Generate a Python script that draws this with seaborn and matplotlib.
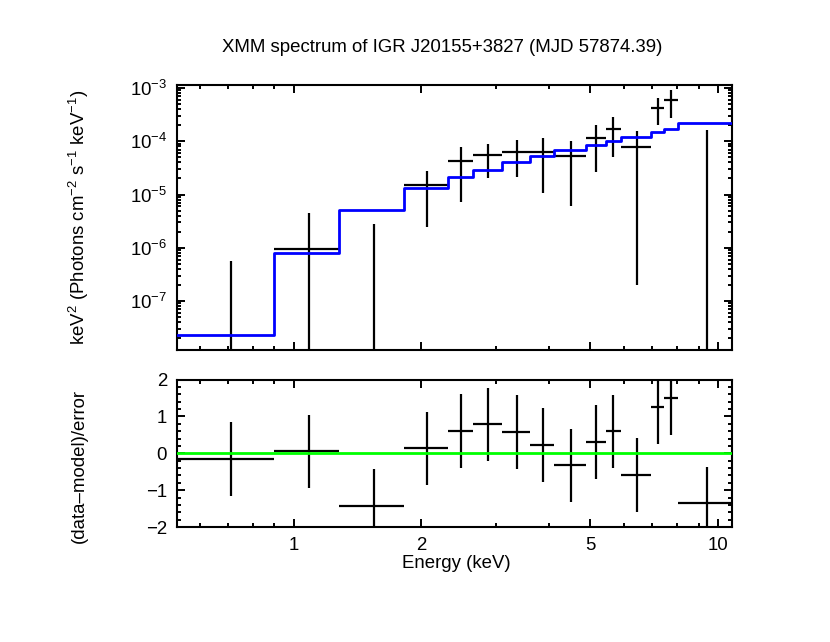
import numpy as np
import matplotlib
matplotlib.use("Agg")
import matplotlib.pyplot as plt
import matplotlib.ticker as mticker
import seaborn as sns

# ---- data ----
bin_lo = [0.53, 0.897, 1.276, 1.824, 2.308, 2.638, 3.103, 3.605, 4.113, 4.876, 5.433, 5.902, 6.944, 7.464, 8.052]
bin_hi = [0.897, 1.276, 1.824, 2.308, 2.638, 3.103, 3.605, 4.113, 4.876, 5.433, 5.902, 6.944, 7.464, 8.052, 10.8]
flux = [-8e-8, 9.4e-7, -2.7e-6, 1.5e-5, 4.3e-5, 5.45e-5, 6.25e-5, 6.3e-5, 5.35e-5, 1.14e-4, 1.70e-4, 7.86e-5, 4.3e-4, 5.9e-4, -1e-6]
flux_err = [6.5e-7, 3.6e-6, 5.5e-6, 1.25e-5, 3.58e-5, 3.4e-5, 4.12e-5, 5.25e-5, 4.75e-5, 8.8e-5, 1.19e-4, 7.84e-5, 2.28e-4, 3.2e-4, 1.64e-4]
model = [2.28e-8, 7.8e-7, 5.09e-6, 1.30e-5, 2.10e-5, 2.88e-5, 4.01e-5, 5.27e-5, 6.74e-5, 8.49e-5, 1.01e-4, 1.22e-4, 1.47e-4, 1.67e-4, 2.17e-4]
resid = [-0.16, 0.05, -1.43, 0.13, 0.6, 0.78, 0.57, 0.22, -0.33, 0.31, 0.59, -0.58, 1.25, 1.5, -1.36]
resid_err = [1.0] * 15
x_major = [1, 2, 5, 10]
x_minor = [0.6, 0.7, 0.8, 0.9, 3, 4, 6, 7, 8, 9]

title = "XMM spectrum of IGR J20155+3827 (MJD 57874.39)"
ylabel_top = r"keV$^2$ (Photons cm$^{-2}$ s$^{-1}$ keV$^{-1}$)"
ylabel_bot = "(data–model)/error"
xlabel = "Energy (keV)"

sns.set_theme(style="ticks")
plt.rcParams["font.family"] = ["Liberation Sans", "DejaVu Sans"]
plt.rcParams["mathtext.fontset"] = "custom"
plt.rcParams["mathtext.rm"] = "Liberation Sans"
plt.rcParams["mathtext.it"] = "Liberation Sans:italic"
plt.rcParams["mathtext.default"] = "regular"
plt.rcParams["axes.unicode_minus"] = True

FS = 13.4
W, H = 830, 642
fig = plt.figure(figsize=(W / 100, H / 100), dpi=100)
fig.patch.set_facecolor("white")

def fx(px):
    return px / W

def fy(py):
    return 1 - py / H

L, R = 176.7, 732.3
ax1 = fig.add_axes([fx(L), fy(350), fx(R - L), (350 - 85) / H])
ax2 = fig.add_axes([fx(L), fy(527), fx(R - L), (527 - 379.5) / H], sharex=ax1)

lo = np.array(bin_lo)
hi = np.array(bin_hi)
cen = (lo + hi) / 2
half = (hi - lo) / 2

for ax in (ax1, ax2):
    ax.set_facecolor("white")
    for s in ax.spines.values():
        s.set_linewidth(1.5)
        s.set_color("black")

# upper panel
ax1.set_xscale("log")
ax1.set_yscale("log")
edges = list(bin_lo) + [bin_hi[-1]]
model_ext = list(model) + [model[-1]]
ax1.errorbar(cen, flux, xerr=half, yerr=flux_err, fmt="none", ecolor="black",
             elinewidth=1.6, capsize=0, zorder=3)
sns.lineplot(x=edges, y=model_ext, ax=ax1, drawstyle="steps-post", color="#0000ff",
             linewidth=2.0, estimator=None, sort=False, zorder=4)
ax1.set_xlim(0.53, 10.8)
ax1.set_ylim(1.2e-8, 1.14e-3)
ax1.yaxis.set_major_locator(mticker.LogLocator(base=10, numticks=20))
ax1.yaxis.set_minor_locator(mticker.LogLocator(base=10, subs=np.arange(2, 10), numticks=20))
ax1.yaxis.set_minor_formatter(mticker.NullFormatter())
ax1.set_xlabel("")
ax1.set_ylabel("")
plt.setp(ax1.get_xticklabels(), visible=False)

# lower panel
ax2.errorbar(cen, resid, xerr=half, yerr=resid_err, fmt="none", ecolor="black",
             elinewidth=1.6, capsize=0, zorder=3)
ax2.axhline(0, color="#00ff00", linewidth=2.0, zorder=4)
ax2.set_ylim(-2, 2)
ax2.yaxis.set_major_locator(mticker.MultipleLocator(1))
ax2.yaxis.set_minor_locator(mticker.MultipleLocator(0.2))
ax2.set_ylabel("")

ax2.xaxis.set_major_locator(mticker.FixedLocator(x_major))
ax2.xaxis.set_minor_locator(mticker.FixedLocator(x_minor))
ax2.xaxis.set_major_formatter(mticker.FuncFormatter(lambda v, p: f"{v:g}"))
ax2.xaxis.set_minor_formatter(mticker.NullFormatter())

for ax in (ax1, ax2):
    ax.tick_params(which="both", direction="in", top=True, right=True,
                   colors="black", labelsize=FS, width=1.4)
    ax.tick_params(which="major", length=6, pad=7)
    ax.tick_params(which="minor", length=3)
    ax.grid(False)

fig.text(fx(442), fy(47), title, ha="center", va="center", fontsize=FS, color="black")
fig.text(fx(456), fy(564), xlabel, ha="center", va="center", fontsize=FS, color="black")
fig.text(fx(79), fy(217), ylabel_top, ha="center", va="center", rotation=90, fontsize=FS, color="black")
fig.text(fx(79), fy(466), ylabel_bot, ha="center", va="center", rotation=90, fontsize=FS, color="black")

fig.savefig("out.png", dpi=100, facecolor="white")
